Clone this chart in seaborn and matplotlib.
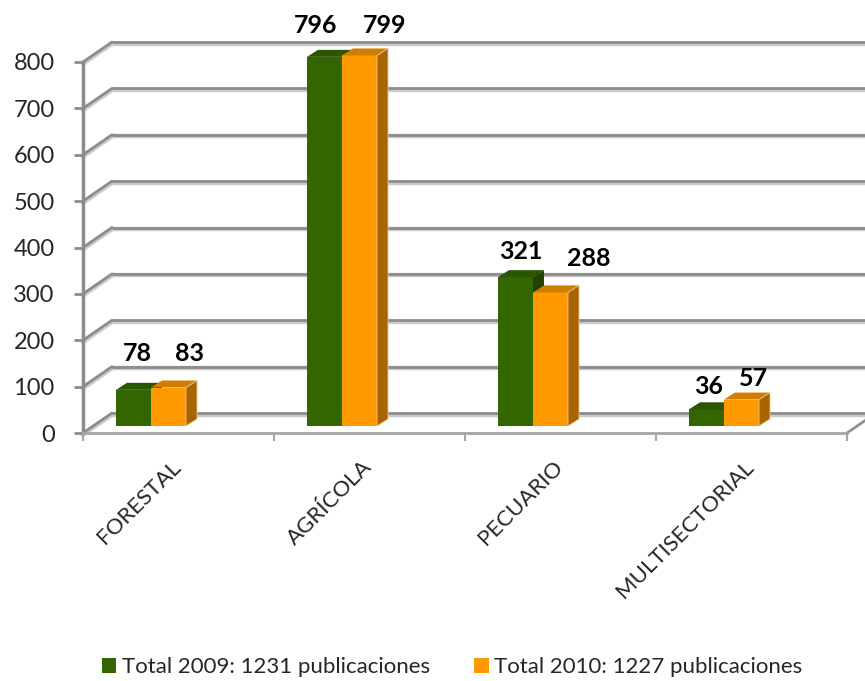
import matplotlib
matplotlib.use("Agg")
import matplotlib.pyplot as plt
import matplotlib.transforms as mtransforms
from matplotlib.patches import Polygon, Patch
import seaborn as sns
import pandas as pd

# Publications per sector, two years
sectores = ["FORESTAL", "AGRÍCOLA", "PECUARIO", "MULTISECTORIAL"]
valores_2009 = [78, 796, 321, 36]
valores_2010 = [83, 799, 288, 57]
series = ["Total 2009: 1231 publicaciones", "Total 2010: 1227 publicaciones"]
ticks_y = [0, 100, 200, 300, 400, 500, 600, 700, 800]

# value-label nudges in pixels (x shift, height above the bar's front top),
# ordered left to right across the bars
nudge_x = [4, 21, -9, 25, 5, 38, 2, 12]
nudge_y = [36, 34, 31, 30, 26, 34, 23, 21]

verde = "#336600"
naranja = "#FF9900"
caras = {
    verde: {"top": "#2b5600", "side": "#214200"},
    naranja: {"top": "#d17d00", "side": "#a86400"},
}
gris = "#8c8c8c"
gris_claro = "#cbcbcb"

df = pd.DataFrame({
    "sector": sectores * 2,
    "valor": valores_2009 + valores_2010,
    "serie": [series[0]] * len(sectores) + [series[1]] * len(sectores),
})

sns.set_theme(style="white")
plt.rcParams["font.family"] = ["Lato", "DejaVu Sans"]

W, H = 865, 681
DPI = 100
fig = plt.figure(figsize=(W / DPI, H / DPI), dpi=DPI)
x0, x1, y0, y1 = 83, 847, 433, 62
ax = fig.add_axes([x0 / W, (H - y0) / H, (x1 - x0) / W, (y0 - y1) / H])

sns.barplot(data=df, x="sector", y="valor", hue="serie", palette=[verde, naranja],
            width=0.3665, saturation=1, edgecolor="none", linewidth=0, ax=ax, legend=False)

ax.set_xlim(-0.5, 3.5)
ax.set_ylim(0, 800)

# pixel -> data conversion for the pseudo-3D offsets
px_x = (x1 - x0) / 4.0
px_y = (y0 - y1) / 800.0
wall_dx, wall_dy = 29 / px_x, 20 / px_y
bar_dx, bar_dy = 11 / px_x, 7 / px_y

# back wall gridlines and left wall diagonals
for v in ticks_y:
    for col, lw, sh in ((gris_claro, 3.2, -1.6 / px_y), (gris, 2.0, 0)):
        ax.plot([-0.5 + wall_dx, 3.5 + wall_dx + 0.2], [v + wall_dy + sh] * 2,
                color=col, lw=lw, clip_on=False, zorder=0.5, solid_capstyle="butt")
        ax.plot([-0.5, -0.5 + wall_dx], [v + sh, v + wall_dy + sh],
                color=col, lw=lw, clip_on=False, zorder=0.5)
# floor right edge
ax.plot([3.5, 3.5 + wall_dx], [0, wall_dy], color=gris_claro, lw=2.5, clip_on=False, zorder=0.5)
ax.plot([3.5, 3.5 + wall_dx], [0, wall_dy], color=gris, lw=1.5, clip_on=False, zorder=0.5)

# bars sit a little back and up on the floor
bar_shift = mtransforms.ScaledTranslation(-27.5 / DPI, 7 / DPI, fig.dpi_scale_trans)
tb = ax.transData + bar_shift

# extrude each bar: top and side faces, then its value label
bars = sorted(ax.patches, key=lambda p: p.get_x())
for i, p in enumerate(bars):
    bx, bw, bh = p.get_x(), p.get_width(), p.get_height()
    fc = verde if i % 2 == 0 else naranja
    p.set_facecolor(fc)
    p.set_transform(tb)
    p.set_clip_on(False)
    z = 2 + i
    p.set_zorder(z)
    top = Polygon([(bx, bh), (bx + bw, bh), (bx + bw + bar_dx, bh + bar_dy), (bx + bar_dx, bh + bar_dy)],
                  closed=True, facecolor=caras[fc]["top"], edgecolor="none", zorder=z,
                  clip_on=False, transform=tb)
    side = Polygon([(bx + bw, 0), (bx + bw + bar_dx, bar_dy), (bx + bw + bar_dx, bh + bar_dy), (bx + bw, bh)],
                   closed=True, facecolor=caras[fc]["side"], edgecolor="#e8c89a" if fc == naranja else "none",
                   lw=0.6, zorder=z, clip_on=False, transform=tb)
    ax.add_patch(top)
    ax.add_patch(side)
    lt = tb + mtransforms.ScaledTranslation(nudge_x[i] / DPI, nudge_y[i] / DPI, fig.dpi_scale_trans)
    ax.text(bx + bw / 2, bh, f"{int(round(bh))}", transform=lt,
            ha="center", va="center", fontsize=18, fontweight="bold", color="black",
            zorder=20, clip_on=False)

# axes lines
for s in ("top", "right"):
    ax.spines[s].set_visible(False)
ax.spines["left"].set_color(gris)
ax.spines["left"].set_linewidth(2.5)
ax.spines["bottom"].set_color("#a6a6a6")
ax.spines["bottom"].set_linewidth(2.0)
ax.spines["left"].set_zorder(1)

ax.set_yticks(ticks_y)
ax.set_yticklabels([str(t) for t in ticks_y])
ax.tick_params(axis="y", left=True, length=6.5, width=2, color=gris, labelsize=17, pad=14)
ax.set_xticks(range(len(sectores)))
ax.set_xticks([-0.5, 0.5, 1.5, 2.5, 3.5], minor=True)
ax.tick_params(axis="x", which="major", bottom=False, length=0)
ax.tick_params(axis="x", which="minor", bottom=True, length=6, width=1.5, color="#a6a6a6")
ax.set_xticklabels(sectores, rotation=45, ha="right", va="top", rotation_mode="anchor", fontsize=16)
shift = mtransforms.ScaledTranslation(-0.08, -0.19, fig.dpi_scale_trans)
for lab in ax.get_xticklabels():
    lab.set_transform(lab.get_transform() + shift)
ax.set_xlabel("")
ax.set_ylabel("")
ax.grid(False)

handles = [Patch(facecolor=verde, edgecolor="none"), Patch(facecolor=naranja, edgecolor="none")]
fig.legend(handles, series, loc="center", bbox_to_anchor=(452 / W, 1 - 667 / H), ncol=2,
           frameon=False, fontsize=16, handlelength=0.65, handleheight=0.65,
           handletextpad=0.25, columnspacing=2.0)

fig.savefig("out.png", dpi=DPI, facecolor="white")
